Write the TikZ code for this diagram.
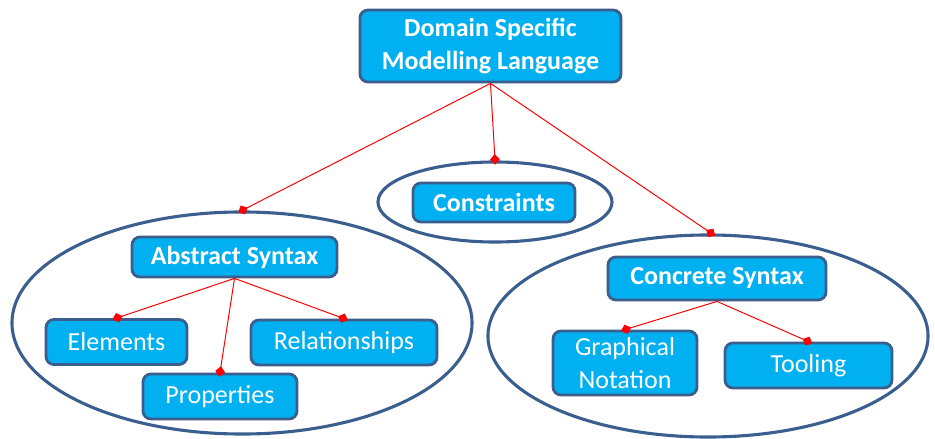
\documentclass[tikz,border=0pt]{standalone}
\usepackage{fontspec}
\setmainfont{Carlito}
\usetikzlibrary{arrows.meta,shapes.geometric}
\definecolor{boxfill}{HTML}{00B0F0}
\definecolor{boxline}{HTML}{3A5F8E}
\newcommand{\txt}{\fontsize{18.5}{23}\selectfont}

\begin{document}
\begin{tikzpicture}[x=0.025cm,y=-0.025cm,
  oval/.style={ellipse,draw=boxline,line width=2.2pt,inner sep=0pt},
  box/.style={draw=boxline,fill=boxfill,line width=2pt,rounded corners=0.2cm,
    text=white,align=center,inner sep=0pt,font=\txt},
  head/.style={box,font=\txt\bfseries},
  link/.style={red,line width=0.7pt,shorten >=-3pt,
    -{Diamond[length=7.5pt,width=7pt]}}]
\useasboundingbox (0,0) rectangle (935,439);
\node[oval,minimum width=11.5cm,minimum height=5.55cm] (absoval) at (242,323) {};
\node[oval,minimum width=5.85cm,minimum height=2cm] (consoval) at (495,202) {};
\node[oval,minimum width=11cm,minimum height=5.05cm] (concoval) at (708,336) {};
\node[head,minimum width=6.525cm,minimum height=1.8cm] (dsml) at (490.5,46) {Domain Specific\\Modelling Language};
\node[head,minimum width=4.05cm,minimum height=0.975cm] (cons) at (494,202.5) {Constraints};
\node[head,minimum width=5.125cm,minimum height=1cm] (abs) at (234.5,257) {Abstract Syntax};
\node[head,minimum width=5.45cm,minimum height=1.075cm] (conc) at (717,278.5) {Concrete Syntax};
\node[box,minimum width=3.525cm,minimum height=1.125cm] (elem) at (116.5,342) {Elements};
\node[box,minimum width=4.65cm,minimum height=1.125cm] (rel) at (344,342.5) {Relationships};
\node[box,minimum width=3.85cm,minimum height=1.125cm] (prop) at (220,396.5) {Properties};
\node[box,minimum width=3.6cm,minimum height=1.6cm] (graph) at (625,363) {Graphical\\Notation};
\node[box,minimum width=4.175cm,minimum height=1.125cm] (tool) at (808.5,365.5) {Tooling};
% connectors
\draw[link] (dsml.south) -- (absoval.north);
\draw[link] (dsml.south) -- (consoval.north);
\draw[link] (dsml.south) -- (concoval.88);
\draw[link] (abs.south) -- (elem.north);
\draw[link] (abs.south) -- (prop.north);
\draw[link] (abs.south) -- (rel.north);
\draw[link] (conc.south) -- (graph.north);
\draw[link] (conc.south) -- (tool.north);
\end{tikzpicture}
\end{document}
